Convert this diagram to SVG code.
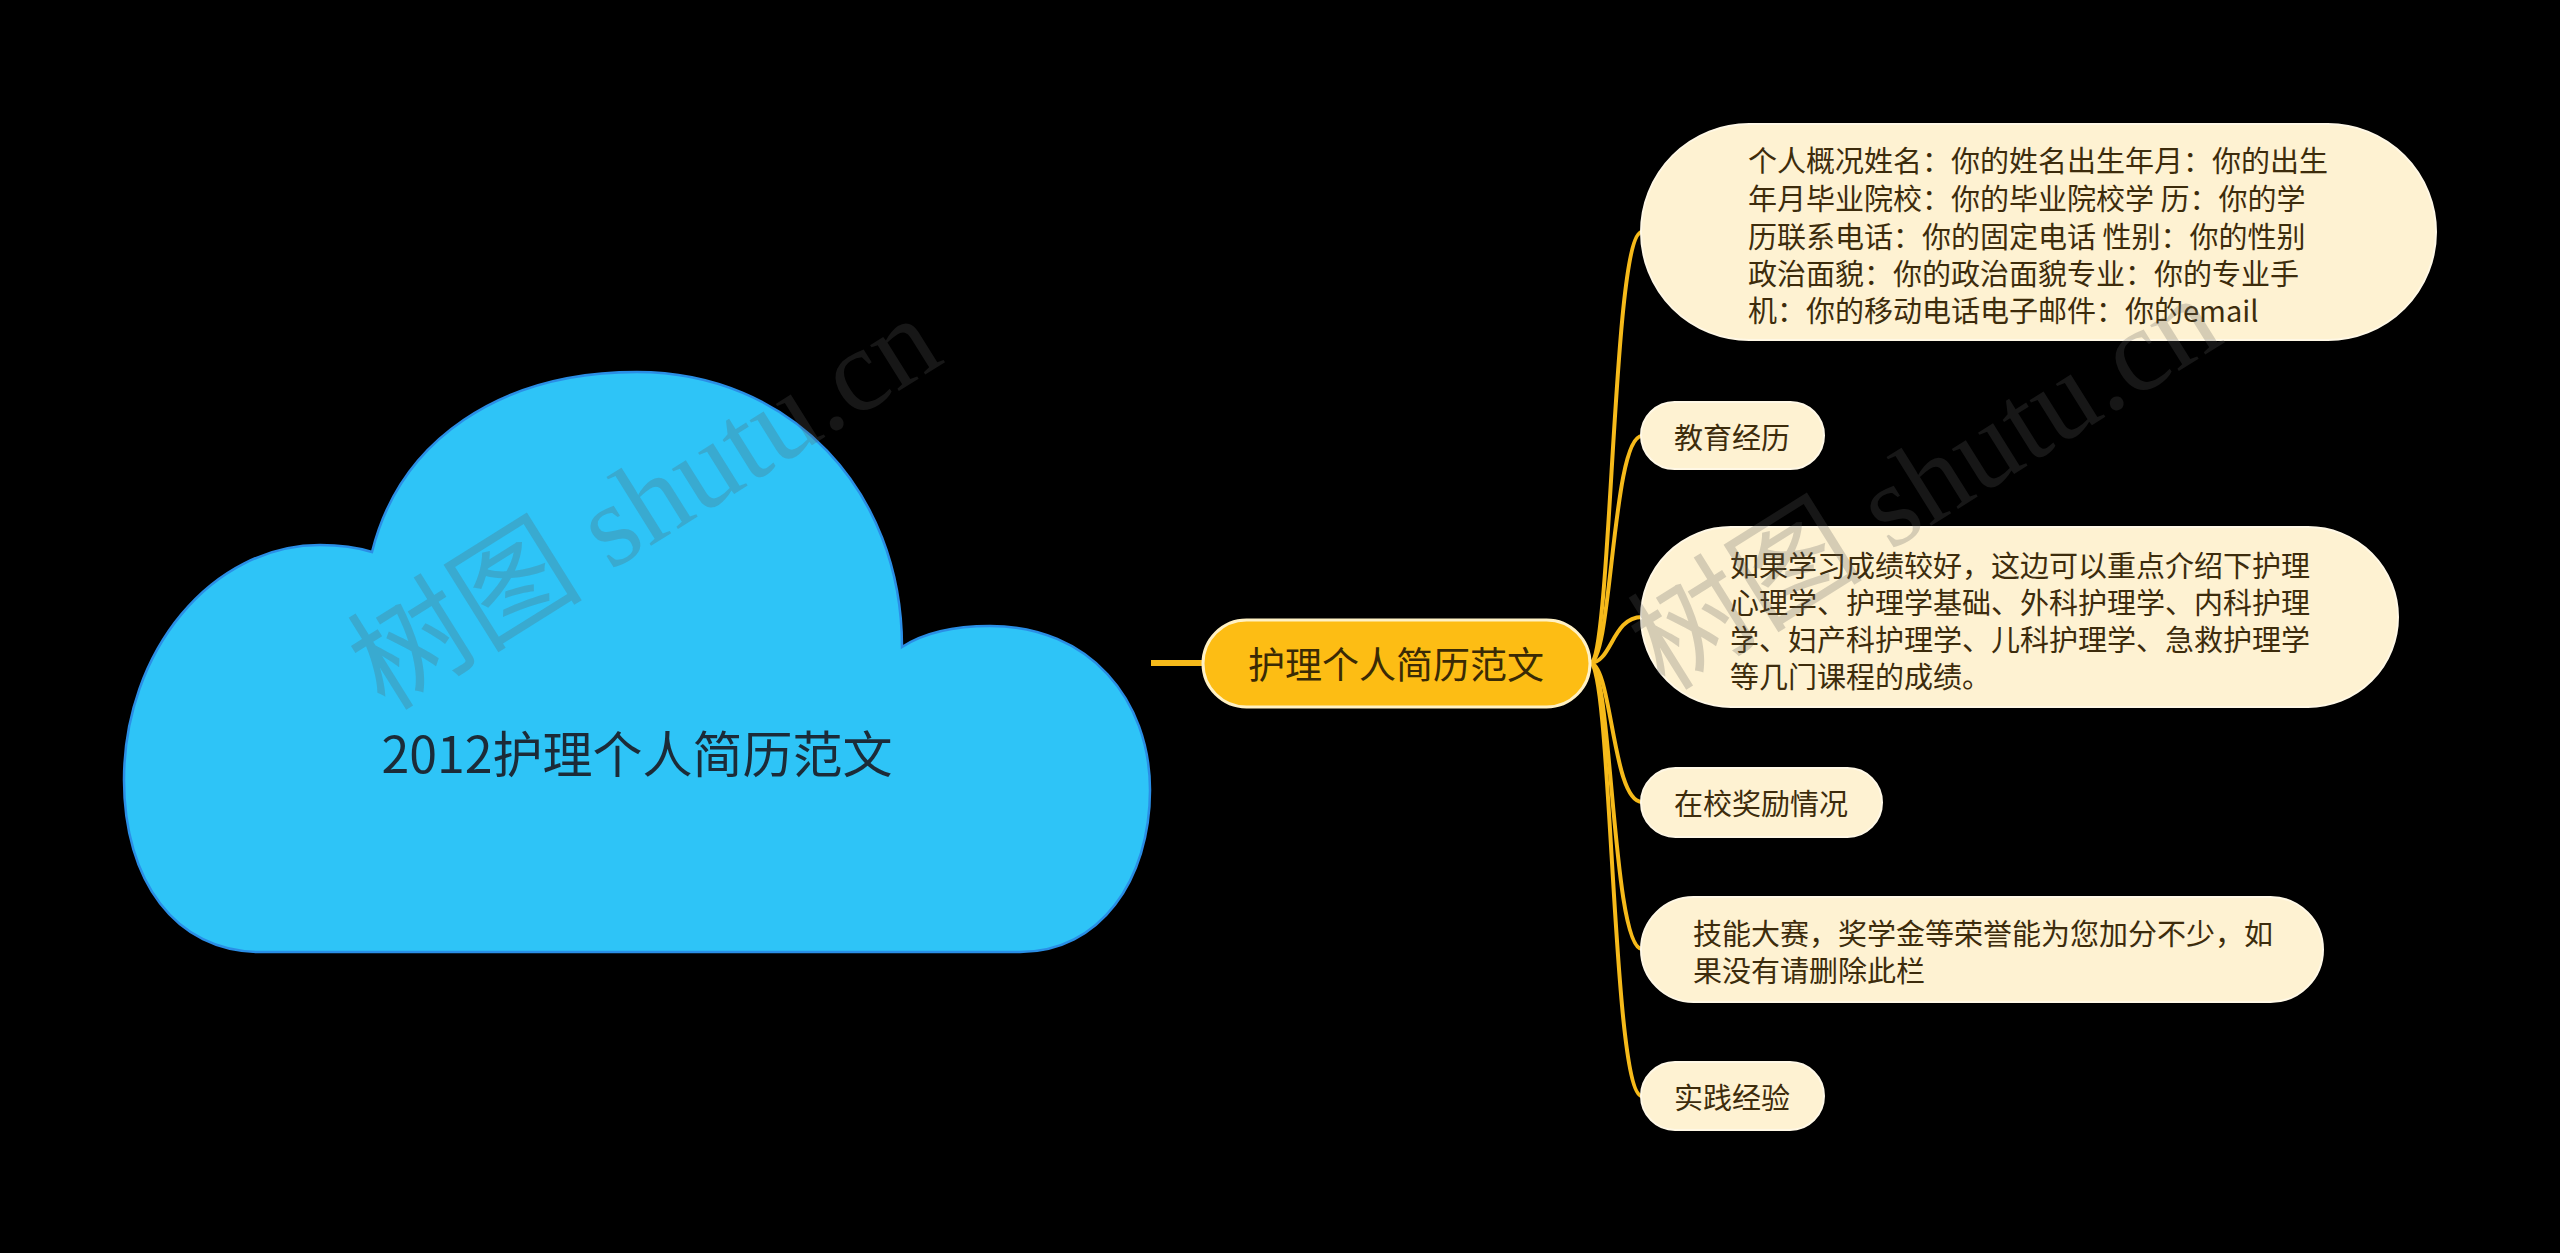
<svg xmlns="http://www.w3.org/2000/svg" width="2560" height="1253" viewBox="0 0 2560 1253">
<style>
.bg{fill:#000000}
.cloud{fill:#2EC4F7;stroke:#2A8EE6;stroke-width:2.5}
.ctext{font-family:"Noto Sans CJK SC","Noto Sans",sans-serif;font-size:50px;fill:#1C2B38}
.main{fill:#FDBD14;stroke:#FFF1C4;stroke-width:3}
.mtext{font-family:"Noto Sans CJK SC","Noto Sans",sans-serif;font-size:37px;fill:#3A2A05}
.leaf{fill:#FEF2D2;stroke:#FFF8E6;stroke-width:2}
.ltext{font-family:"Noto Sans CJK SC","Noto Sans",sans-serif;font-size:29px;fill:#3D2C0C}
.link{fill:none;stroke:#F6BA1A;stroke-width:4;stroke-linecap:round}
.wm{font-family:"Liberation Serif","Noto Sans CJK SC",serif;font-size:118px;fill:#5A5A5A;fill-opacity:0.25}
</style>
<rect class="bg" x="0" y="0" width="2560" height="1253"/>
<g id="root">
<path class="cloud" d="M 260 952 C 175 952 124 880 124 780 C 124 651 212 545 320 545 C 340 545 356 547 372 552 C 400 440 500 372 637 372 C 790 372 902 490 902 647 C 925 632 955 626 990 626 C 1090 626 1150 700 1150 790 C 1150 880 1100 952 1020 952 Z"/>
<text class="ctext" x="637" y="751" text-anchor="middle" dominant-baseline="central">2012护理个人简历范文</text>
</g>
<g id="connectors">
<line x1="1151" y1="663" x2="1203" y2="663" stroke="#F6BA1A" stroke-width="6"/>
<path class="link" d="M 1590 663 C 1612 663 1612 232 1642 232"/>
<path class="link" d="M 1590 663 C 1612 663 1612 436 1642 436"/>
<path class="link" d="M 1590 663 C 1612 663 1612 617 1642 617"/>
<path class="link" d="M 1590 663 C 1612 663 1612 802 1642 802"/>
<path class="link" d="M 1590 663 C 1612 663 1612 949 1642 949"/>
<path class="link" d="M 1590 663 C 1612 663 1612 1096 1642 1096"/>
</g>
<g id="main">
<rect class="main" x="1203" y="620" width="387" height="87" rx="43.5"/>
<text class="mtext" x="1396" y="663" text-anchor="middle" dominant-baseline="central">护理个人简历范文</text>
</g>
<g id="n1">
<rect class="leaf" x="1641" y="124" width="795" height="216" rx="108"/>
<text class="ltext" x="1748" y="159" dominant-baseline="central">个人概况姓名：你的姓名出生年月：你的出生</text>
<text class="ltext" x="1748" y="197" dominant-baseline="central">年月毕业院校：你的毕业院校学 历：你的学</text>
<text class="ltext" x="1748" y="235" dominant-baseline="central">历联系电话：你的固定电话 性别：你的性别</text>
<text class="ltext" x="1748" y="272" dominant-baseline="central">政治面貌：你的政治面貌专业：你的专业手</text>
<text class="ltext" x="1748" y="309" dominant-baseline="central">机：你的移动电话电子邮件：你的email</text>
</g>
<g id="n2">
<rect class="leaf" x="1641" y="402" width="183" height="67" rx="33.5"/>
<text class="ltext" x="1674" y="436" dominant-baseline="central">教育经历</text>
</g>
<g id="n3">
<rect class="leaf" x="1641" y="527" width="757" height="180" rx="90"/>
<text class="ltext" x="1730" y="564" dominant-baseline="central">如果学习成绩较好，这边可以重点介绍下护理</text>
<text class="ltext" x="1730" y="601" dominant-baseline="central">心理学、护理学基础、外科护理学、内科护理</text>
<text class="ltext" x="1730" y="638" dominant-baseline="central">学、妇产科护理学、儿科护理学、急救护理学</text>
<text class="ltext" x="1730" y="675" dominant-baseline="central">等几门课程的成绩。</text>
</g>
<g id="n4">
<rect class="leaf" x="1641" y="768" width="241" height="69" rx="34.5"/>
<text class="ltext" x="1674" y="802" dominant-baseline="central">在校奖励情况</text>
</g>
<g id="n5">
<rect class="leaf" x="1641" y="897" width="682" height="105" rx="52.5"/>
<text class="ltext" x="1693" y="932" dominant-baseline="central">技能大赛，奖学金等荣誉能为您加分不少，如</text>
<text class="ltext" x="1693" y="969" dominant-baseline="central">果没有请删除此栏</text>
</g>
<g id="n6">
<rect class="leaf" x="1641" y="1062" width="183" height="68" rx="34"/>
<text class="ltext" x="1674" y="1096" dominant-baseline="central">实践经验</text>
</g>
<g id="watermarks">
<text class="wm" x="0" y="0" transform="translate(385 712) rotate(-32)">树图 shutu.cn</text>
<text class="wm" x="0" y="0" transform="translate(1665 692) rotate(-32)">树图 shutu.cn</text>
</g>
</svg>
